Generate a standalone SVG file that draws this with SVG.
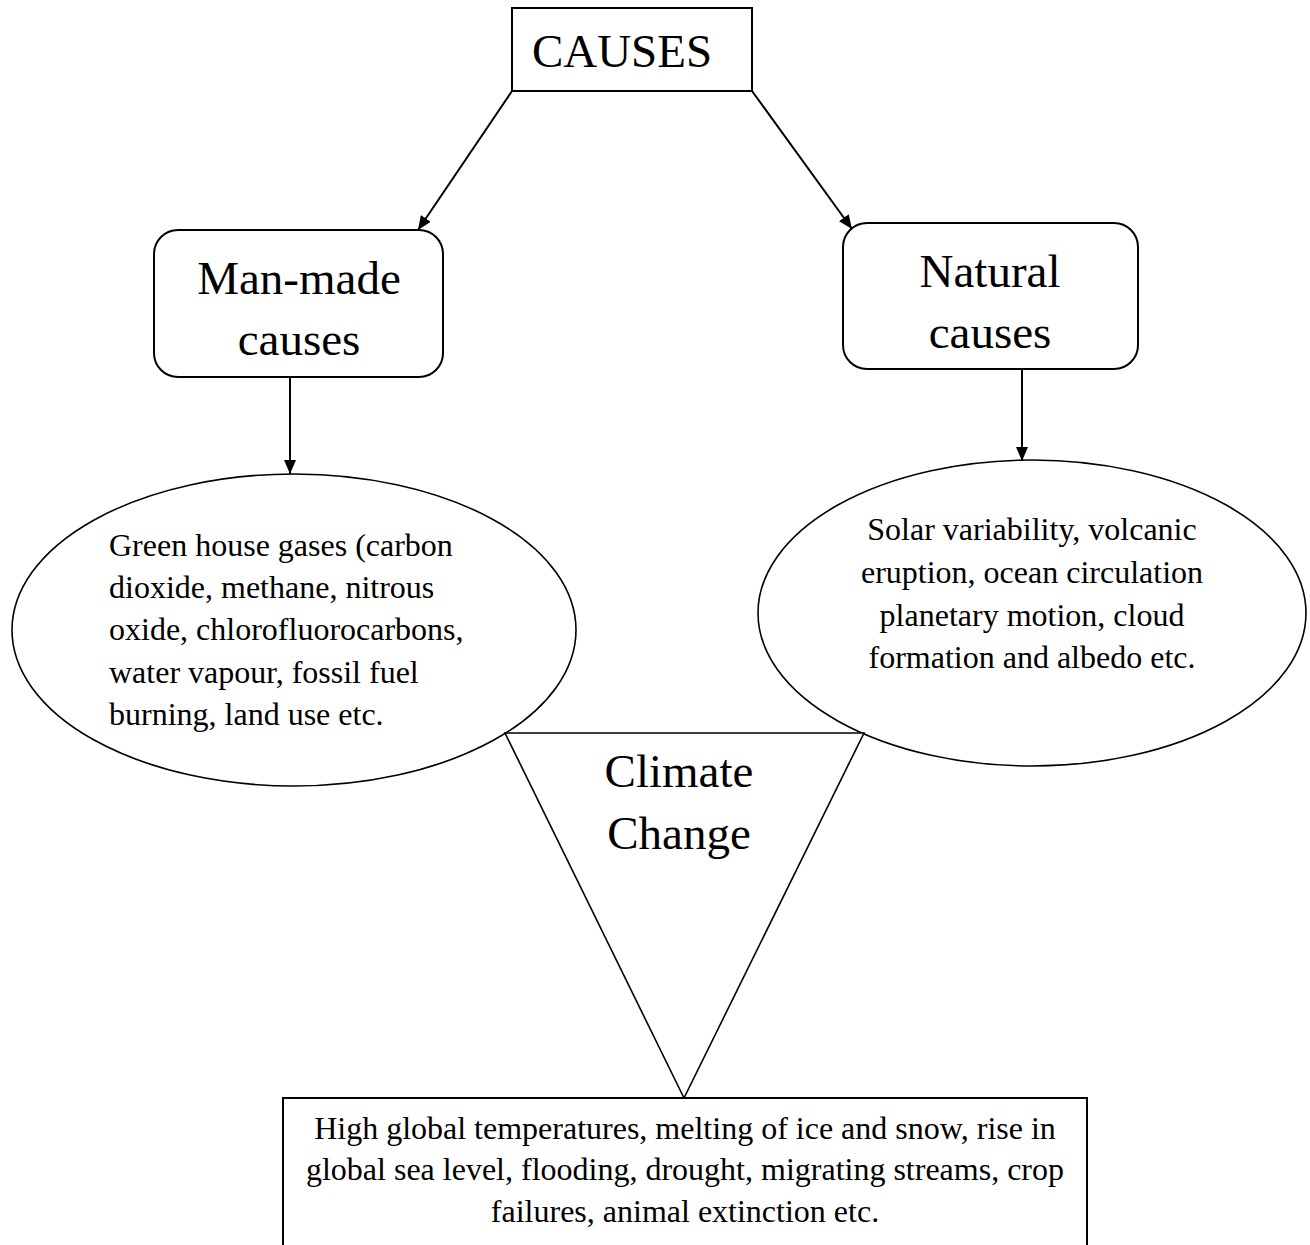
<svg xmlns="http://www.w3.org/2000/svg" width="1310" height="1245" viewBox="0 0 1310 1245">
<defs>
<style>
.shape{fill:#fff;stroke:#000;stroke-width:2}
.thin{fill:#fff;stroke:#000;stroke-width:1.6}
.big{font-family:"Liberation Serif","Times New Roman",serif;font-size:47px;fill:#000}
.small{font-family:"Liberation Serif","Times New Roman",serif;font-size:32px;fill:#000}
.mid{text-anchor:middle}
.conn{stroke:#000;stroke-width:2;fill:none}
</style>
<marker id="arrow" markerWidth="14" markerHeight="12" refX="14" refY="6" orient="auto" markerUnits="userSpaceOnUse">
<path d="M0,0 L14,6 L0,12 Z" fill="#000"/>
</marker>
</defs>
<rect width="1310" height="1245" fill="#fff"/>
<g id="causes">
<rect class="shape" x="512" y="8" width="240" height="83"/>
<text class="big mid" x="622" y="67">CAUSES</text>
</g>
<g id="man-made">
<rect class="shape" x="154" y="230" width="289" height="147" rx="24"/>
<text class="big mid" x="299" y="294">Man-made</text>
<text class="big mid" x="299" y="355">causes</text>
</g>
<g id="natural">
<rect class="shape" x="843" y="223" width="295" height="146" rx="24"/>
<text class="big mid" x="990" y="287">Natural</text>
<text class="big mid" x="990" y="348">causes</text>
</g>
<g id="man-made-list">
<ellipse class="thin" cx="294" cy="630" rx="282" ry="156"/>
<text class="small" x="109" y="556">Green house gases (carbon</text>
<text class="small" x="109" y="598">dioxide, methane, nitrous</text>
<text class="small" x="109" y="640">oxide, chlorofluorocarbons,</text>
<text class="small" x="109" y="683">water vapour, fossil fuel</text>
<text class="small" x="109" y="725">burning, land use etc.</text>
</g>
<g id="natural-list">
<ellipse class="thin" cx="1032" cy="613" rx="274" ry="153"/>
<text class="small mid" x="1032" y="540">Solar variability, volcanic</text>
<text class="small mid" x="1032" y="583">eruption, ocean circulation</text>
<text class="small mid" x="1032" y="626">planetary motion, cloud</text>
<text class="small mid" x="1032" y="668">formation and albedo etc.</text>
</g>
<g id="climate-change">
<polygon class="thin" points="505,733 864,733 684,1098"/>
<text class="big mid" x="679" y="787">Climate</text>
<text class="big mid" x="679" y="849">Change</text>
</g>
<g id="effects">
<rect class="shape" x="283" y="1098" width="804" height="200"/>
<text class="small mid" x="685" y="1139">High global temperatures, melting of ice and snow, rise in</text>
<text class="small mid" x="685" y="1180">global sea level, flooding, drought, migrating streams, crop</text>
<text class="small mid" x="685" y="1222">failures, animal extinction etc.</text>
</g>
<g id="connectors">
<line class="conn" x1="512" y1="91" x2="418" y2="230" marker-end="url(#arrow)"/>
<line class="conn" x1="752" y1="91" x2="852" y2="229" marker-end="url(#arrow)"/>
<line class="conn" x1="290" y1="377" x2="290" y2="474" marker-end="url(#arrow)"/>
<line class="conn" x1="1022" y1="369" x2="1022" y2="461" marker-end="url(#arrow)"/>
</g>
</svg>
